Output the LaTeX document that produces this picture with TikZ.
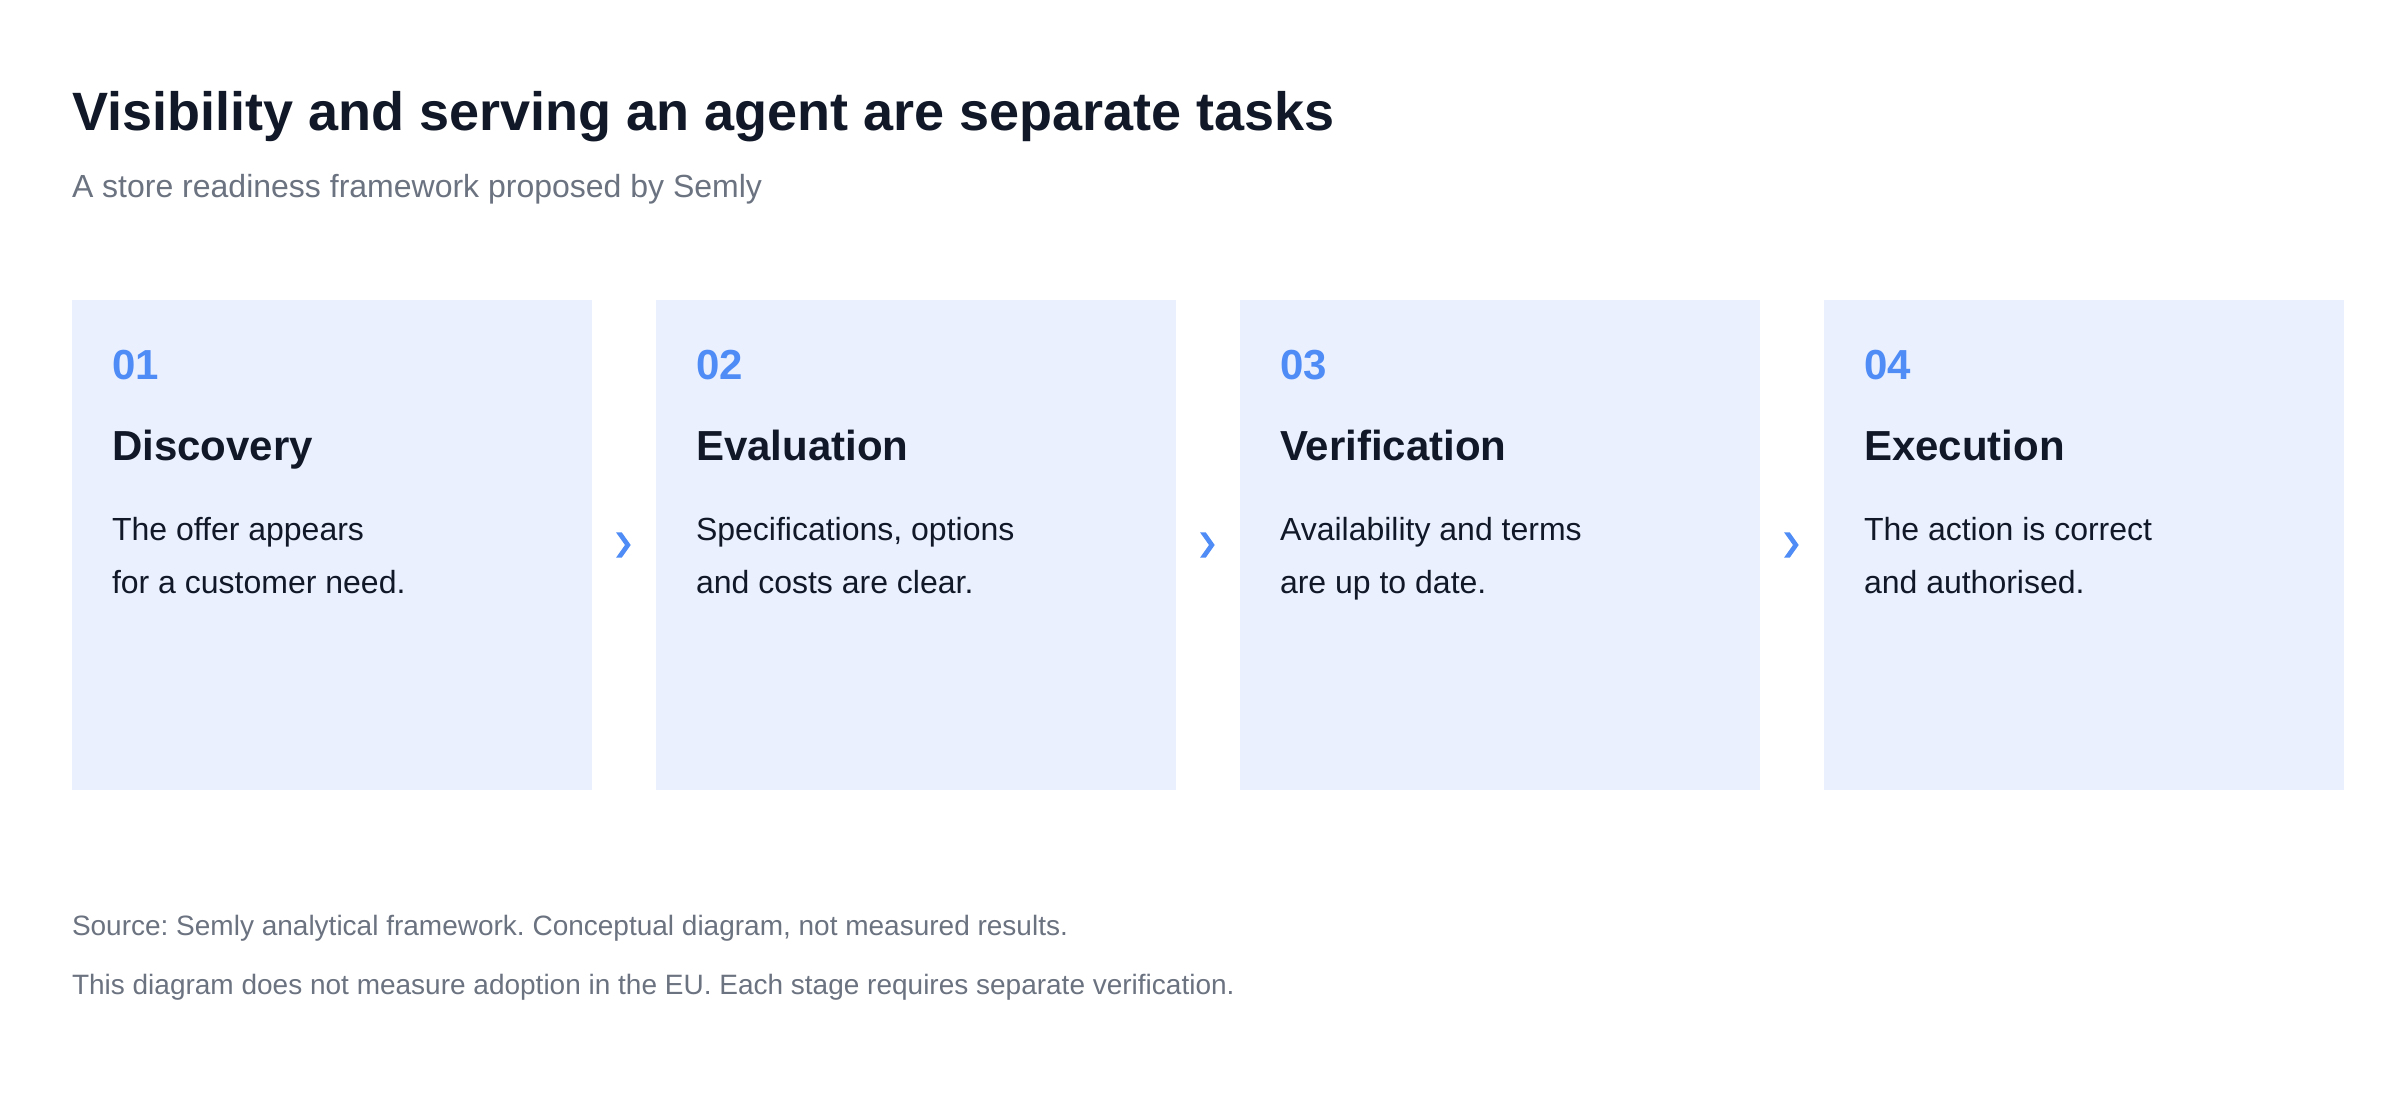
\documentclass[tikz,border=0pt]{standalone}
\usepackage{fontspec}
\setmainfont{Liberation Sans}
\usetikzlibrary{positioning}
\frenchspacing
\definecolor{ink}{HTML}{111827}
\definecolor{muted}{HTML}{6B7280}
\definecolor{cardfill}{HTML}{EAF0FE}
\definecolor{accent}{HTML}{4F8CF6}
\tikzset{
  txt/.style={anchor=base west, inner sep=0pt, outer sep=0pt},
  titletxt/.style={txt, text=ink, font=\fontsize{54}{60}\selectfont\bfseries},
  subtxt/.style={txt, text=muted, font=\fontsize{32}{38}\selectfont},
  foot/.style={txt, text=muted, font=\fontsize{28}{34}\selectfont},
  card/.style={fill=cardfill, minimum width=520pt, minimum height=490pt, inner sep=0pt, outer sep=0pt},
  num/.style={txt, text=accent, font=\fontsize{42}{48}\selectfont\bfseries},
  head/.style={txt, text=ink, font=\fontsize{42}{48}\selectfont\bfseries},
  body/.style={txt, text=ink, font=\fontsize{32}{38}\selectfont},
  chevron/.pic={\fill[accent] (-8,12.7) -- (-2.3,12.7) -- (6.7,0) -- (-2.3,-12.7) -- (-8,-12.7) -- (1,0) -- cycle;}
}
\begin{document}
\begin{tikzpicture}[x=1pt, y=1pt]
    \fill[white] (0,0) rectangle (2400,-1100);
    \useasboundingbox (0,0) rectangle (2400,-1100);
    % heading
    \node[titletxt] (title) at (72,-130) {Visibility and serving an agent are separate tasks};
    \node[subtxt] (sub) at ([yshift=-67pt]title.base west) {A store readiness framework proposed by Semly};
    % cards
    \node[card, anchor=north west] (c1) at (72,-300) {};
    \node[card, right=64pt of c1] (c2) {};
    \node[card, right=64pt of c2] (c3) {};
    \node[card, right=64pt of c3] (c4) {};
    \node[num] (n1) at ([xshift=40pt,yshift=-79pt]c1.north west) {01};
    \node[head] (h1) at ([yshift=-81pt]n1.base west) {Discovery};
    \node[body] (b1) at ([yshift=-80pt]h1.base west) {The offer appears};
    \node[body] (d1) at ([yshift=-53pt]b1.base west) {for a customer need.};
    \node[num] (n2) at ([xshift=40pt,yshift=-79pt]c2.north west) {02};
    \node[head] (h2) at ([yshift=-81pt]n2.base west) {Evaluation};
    \node[body] (b2) at ([yshift=-80pt]h2.base west) {Specifications, options};
    \node[body] (d2) at ([yshift=-53pt]b2.base west) {and costs are clear.};
    \node[num] (n3) at ([xshift=40pt,yshift=-79pt]c3.north west) {03};
    \node[head] (h3) at ([yshift=-81pt]n3.base west) {Verification};
    \node[body] (b3) at ([yshift=-80pt]h3.base west) {Availability and terms};
    \node[body] (d3) at ([yshift=-53pt]b3.base west) {are up to date.};
    \node[num] (n4) at ([xshift=40pt,yshift=-79pt]c4.north west) {04};
    \node[head] (h4) at ([yshift=-81pt]n4.base west) {Execution};
    \node[body] (b4) at ([yshift=-80pt]h4.base west) {The action is correct};
    \node[body] (d4) at ([yshift=-53pt]b4.base west) {and authorised.};
    % chevrons between cards
    \path (c1.east) -- (c2.west) coordinate[midway] (g12);
    \path (c2.east) -- (c3.west) coordinate[midway] (g23);
    \path (c3.east) -- (c4.west) coordinate[midway] (g34);
    \pic at (g12) {chevron};
    \pic at (g23) {chevron};
    \pic at (g34) {chevron};
    % notes
    \node[foot] (src) at (72,-935) {Source: Semly analytical framework. Conceptual diagram, not measured results.};
    \node[foot] (note) at ([yshift=-59pt]src.base west) {This diagram does not measure adoption in the EU. Each stage requires separate verification.};
\end{tikzpicture}
\end{document}
